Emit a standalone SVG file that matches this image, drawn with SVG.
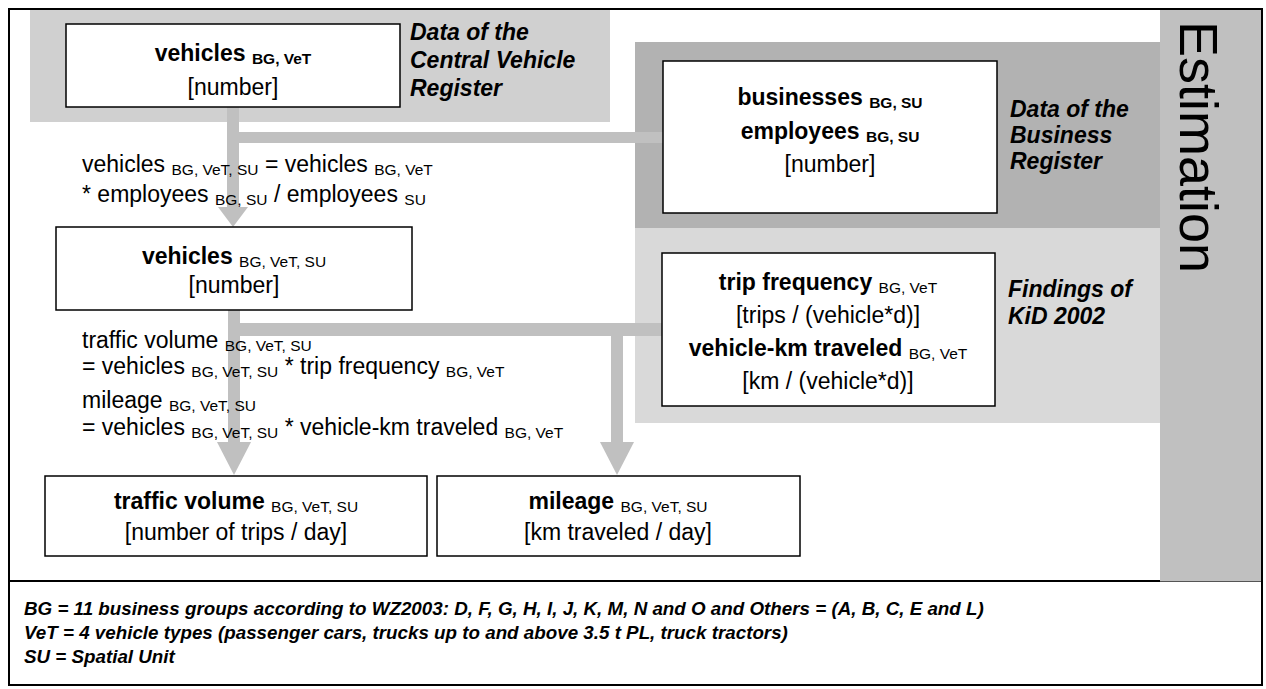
<svg xmlns="http://www.w3.org/2000/svg" width="1266" height="689" viewBox="0 0 1266 689">
<style>
text{font-family:"Liberation Sans",Arial,sans-serif;fill:#000}
.t{font-size:23px}
.b{font-weight:bold}
.lab{font-size:23px;font-weight:bold;font-style:italic}
.s{font-size:15.5px}
.note{font-size:18.8px;font-weight:bold;font-style:italic}
.box{fill:#fff;stroke:#000;stroke-width:1.5}
.con{fill:#c0c0c0}
</style>
<rect x="0" y="0" width="1266" height="689" fill="#fff"/>
<g id="estimation">
<rect x="1160" y="9" width="102" height="572" fill="#c0c0c0"/>
<text transform="translate(1180,21) rotate(90)" style="font-size:54px">Estimation</text>
</g>
<g id="cvr-area">
<rect x="30" y="9" width="580" height="113" fill="#d0d0d0"/>
<text class="lab" x="410" y="40">Data of the</text>
<text class="lab" x="410" y="68">Central Vehicle</text>
<text class="lab" x="410" y="96">Register</text>
</g>
<g id="br-area">
<rect x="635" y="42" width="525" height="186" fill="#b2b2b2"/>
<text class="lab" x="1010" y="117">Data of the</text>
<text class="lab" x="1010" y="143">Business</text>
<text class="lab" x="1010" y="169">Register</text>
</g>
<g id="kid-area">
<rect x="635" y="228" width="525" height="195" fill="#d9d9d9"/>
<text class="lab" x="1008" y="297">Findings of</text>
<text class="lab" x="1008" y="324">KiD 2002</text>
</g>
<g id="connectors">
<rect class="con" x="227" y="107" width="12" height="100"/>
<rect class="con" x="233" y="132" width="430" height="11"/>
<polygon class="con" points="218,207 248,207 233,227"/>
<rect class="con" x="228" y="310" width="12" height="132"/>
<rect class="con" x="234" y="323" width="428" height="13"/>
<rect class="con" x="611" y="330" width="12" height="112"/>
<polygon class="con" points="217,442 251,442 234,475"/>
<polygon class="con" points="600,442 634,442 617,475"/>
</g>
<g id="vehicles-cvr">
<rect class="box" x="66" y="24" width="334" height="83"/>
<text class="t b" x="233" y="61" text-anchor="middle">vehicles <tspan class="s" dy="3">BG, VeT</tspan></text>
<text class="t" x="233" y="95" text-anchor="middle">[number]</text>
</g>
<g id="businesses">
<rect class="box" x="663" y="61" width="334" height="152"/>
<text class="t b" x="830" y="105" text-anchor="middle">businesses <tspan class="s" dy="3">BG, SU</tspan></text>
<text class="t b" x="830" y="139" text-anchor="middle">employees <tspan class="s" dy="3">BG, SU</tspan></text>
<text class="t" x="830" y="172" text-anchor="middle">[number]</text>
</g>
<g id="formula-vehicles">
<text class="t" x="82" y="172">vehicles <tspan class="s" dy="3">BG, VeT, SU</tspan><tspan dy="-3"> = vehicles  </tspan><tspan class="s" dy="3">BG, VeT</tspan></text>
<text class="t" x="82" y="202">* employees <tspan class="s" dy="3">BG, SU</tspan><tspan dy="-3"> / employees </tspan><tspan class="s" dy="3">SU</tspan></text>
</g>
<g id="vehicles-su">
<rect class="box" x="56" y="227" width="356" height="83"/>
<text class="t" x="234" y="264" text-anchor="middle"><tspan class="b">vehicles </tspan><tspan class="s" dy="3">BG, VeT, SU</tspan></text>
<text class="t" x="234" y="293" text-anchor="middle">[number]</text>
</g>
<g id="trip">
<rect class="box" x="662" y="253" width="333" height="153"/>
<text class="t" x="828" y="290" text-anchor="middle"><tspan class="b">trip frequency </tspan><tspan class="s" dy="3">BG, VeT</tspan></text>
<text class="t" x="828" y="323" text-anchor="middle">[trips / (vehicle*d)]</text>
<text class="t" x="828" y="356" text-anchor="middle"><tspan class="b">vehicle-km traveled </tspan><tspan class="s" dy="3">BG, VeT</tspan></text>
<text class="t" x="828" y="389" text-anchor="middle">[km / (vehicle*d)]</text>
</g>
<g id="formula-traffic">
<text class="t" x="82" y="348">traffic volume <tspan class="s" dy="3">BG, VeT, SU</tspan></text>
<text class="t" x="82" y="374"> = vehicles <tspan class="s" dy="3">BG, VeT, SU</tspan><tspan dy="-3"> * trip frequency </tspan><tspan class="s" dy="3">BG, VeT</tspan></text>
<text class="t" x="82" y="408">mileage <tspan class="s" dy="3">BG, VeT, SU</tspan></text>
<text class="t" x="82" y="435"> = vehicles <tspan class="s" dy="3">BG, VeT, SU</tspan><tspan dy="-3"> * vehicle-km traveled </tspan><tspan class="s" dy="3">BG, VeT</tspan></text>
</g>
<g id="traffic-volume">
<rect class="box" x="45" y="476" width="382" height="80"/>
<text class="t" x="236" y="509" text-anchor="middle"><tspan class="b">traffic volume </tspan><tspan class="s" dy="3">BG, VeT, SU</tspan></text>
<text class="t" x="236" y="540" text-anchor="middle">[number of trips / day]</text>
</g>
<g id="mileage">
<rect class="box" x="437" y="476" width="363" height="80"/>
<text class="t" x="618" y="509" text-anchor="middle"><tspan class="b">mileage </tspan><tspan class="s" dy="3">BG, VeT, SU</tspan></text>
<text class="t" x="618" y="540" text-anchor="middle">[km traveled / day]</text>
</g>
<g id="legend">
<line x1="9" y1="581" x2="1160" y2="581" stroke="#000" stroke-width="2"/>
<line x1="1160" y1="581.5" x2="1262" y2="581.5" stroke="#555" stroke-width="1"/>
<text class="note" x="24" y="615">BG  = 11 business groups according to WZ2003: D, F, G, H, I, J, K, M, N and O and Others = (A, B, C, E and L)</text>
<text class="note" x="24" y="639">VeT = 4 vehicle types (passenger cars, trucks up to and above 3.5 t PL, truck tractors)</text>
<text class="note" x="24" y="663">SU = Spatial Unit</text>
</g>
<rect x="9" y="9" width="1253" height="676" fill="none" stroke="#000" stroke-width="2"/>
</svg>
